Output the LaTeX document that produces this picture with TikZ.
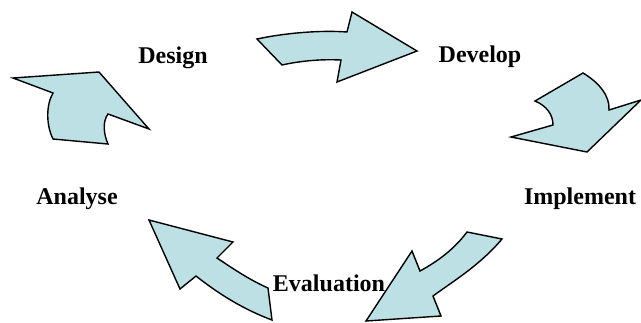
\documentclass[tikz,border=0pt]{standalone}
\usepackage{fontspec}
\setmainfont{Liberation Serif}
\definecolor{paleblue}{RGB}{188,224,228}
\begin{document}
\begin{tikzpicture}[x=1pt,y=-1pt,
  cyclearrow/.style={draw=black,line width=1.4pt,line join=miter,fill=paleblue},
  stage/.style={inner sep=0pt,anchor=base,font=\fontsize{24}{28}\selectfont\bfseries}]
\useasboundingbox(0,0)rectangle(641,322);
\draw[cyclearrow](13,78)--(99,72)--(149,129)--(108,114)..controls(102,122)and(104,135)..(108,144)--(53,139)..controls(46,125)and(46,105)..(53,93)--cycle;
\draw[cyclearrow](257,39)..controls(285,33)and(320,30)..(347,32)--(352,12)--(417,51)--(337,82)--(341,60)..controls(320,59)and(300,61)..(282,65)--cycle;
\draw[cyclearrow](583,73)..controls(598,82)and(610,95)..(609,110)--(641,100)--(587,152)--(511,137)--(553,125)..controls(553,115)and(547,106)..(535,101)--cycle;
\draw[cyclearrow](467,232)--(502,239)..controls(480,265)and(455,280)..(433,296)--(441,316)--(366,321)--(412,251)--(420,271)..controls(440,260)and(455,248)..(467,232)--cycle;
\draw[cyclearrow](149,220)--(233,242)--(217,258)..controls(235,270)and(250,280)..(268,288)--(272,320)..controls(245,310)and(220,295)..(196,276)--(180,289)--cycle;
\node[stage](design)at(173,63){Design};
\node[stage](develop)at(480,62.5){Develop};
\node[stage](analyse)at(77,204){Analyse};
\node[stage](implement)at(580,204){Implement};
\node[stage](evaluation)at(329,291.5){Evaluation};
\end{tikzpicture}
\end{document}
